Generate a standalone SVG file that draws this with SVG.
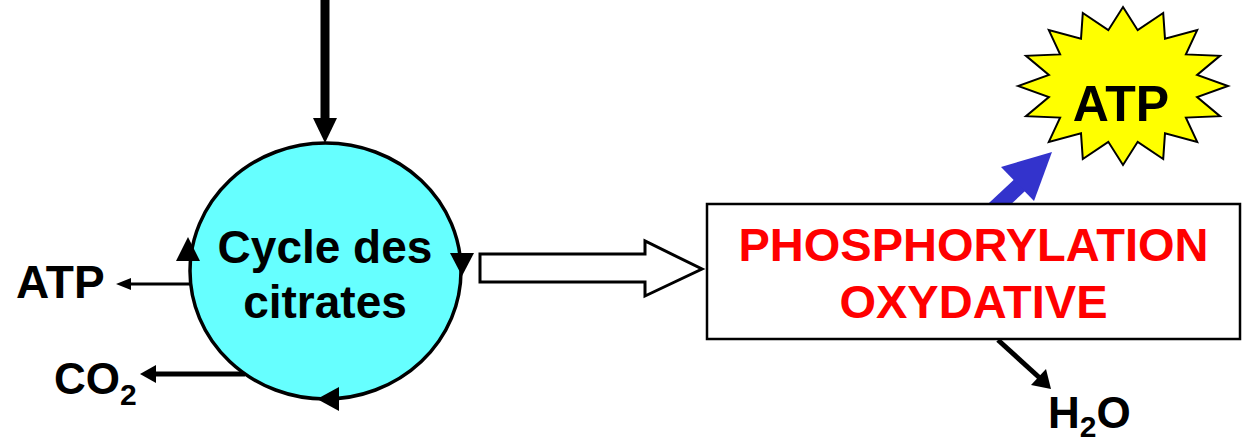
<svg xmlns="http://www.w3.org/2000/svg" width="1247" height="443" viewBox="0 0 1247 443">
<style>
.lbl{font-family:"Liberation Sans",Arial,sans-serif;font-weight:bold;fill:#000}
.red{fill:#ff0000}
.sub{font-size:30px}
</style>
<rect width="1247" height="443" fill="#fff"/>
<g id="connectors">
  <line x1="325" y1="0" x2="325" y2="120" stroke="#000" stroke-width="9"/>
  <polygon points="313,118 337,118 325,143" fill="#000"/>
  <line x1="193" y1="284" x2="126" y2="284" stroke="#000" stroke-width="3"/>
  <polygon points="116,284 131,278 131,290" fill="#000"/>
  <line x1="245" y1="374" x2="150" y2="374" stroke="#000" stroke-width="5"/>
  <polygon points="140,374 156,365 156,383" fill="#000"/>
  <polygon points="480,254 645,254 645,241 702,269 645,296 645,282 480,282" fill="#fff" stroke="#000" stroke-width="3" stroke-linejoin="miter"/>
  <line x1="992" y1="211" x2="1022" y2="183" stroke="#3333cc" stroke-width="16"/>
  <polygon points="1052,152 1001,167 1034,201" fill="#3333cc"/>
  <line x1="998" y1="340" x2="1042" y2="380" stroke="#000" stroke-width="5"/>
  <polygon points="1051,389 1031,385 1046,369" fill="#000"/>
</g>
<g id="cycle">
  <ellipse cx="325.5" cy="271" rx="135.5" ry="128" fill="#66ffff" stroke="#000" stroke-width="3.5"/>
  <polygon points="188,237 176,261 200,261" fill="#000"/>
  <polygon points="462,276 450,253 474,253" fill="#000"/>
  <polygon points="317,399 339,387 339,411" fill="#000"/>
  <text class="lbl" x="325" y="263" font-size="46" text-anchor="middle">Cycle des</text>
  <text class="lbl" x="325" y="318" font-size="46" text-anchor="middle">citrates</text>
</g>
<g id="atp-left">
  <text class="lbl" x="16" y="298" font-size="46">ATP</text>
</g>
<g id="co2">
  <text class="lbl" x="54" y="394" font-size="44">CO<tspan class="sub" dy="11">2</tspan></text>
</g>
<g id="phosphorylation">
  <rect x="707" y="204" width="533" height="135" fill="#fff" stroke="#000" stroke-width="2.5"/>
  <text class="lbl red" x="973.5" y="261" font-size="47" text-anchor="middle">PHOSPHORYLATION</text>
  <text class="lbl red" x="973.5" y="318" font-size="47" text-anchor="middle">OXYDATIVE</text>
</g>
<g id="atp-star">
  <polygon fill="#ffff00" stroke="#000" stroke-width="2" stroke-linejoin="miter" points="1123,7 1137.7,30.2 1163.2,13 1165,38.7 1197.2,30.1 1185.9,54.4 1220,55.8 1197.1,74.9 1228,86 1197.1,97.1 1220,116.2 1185.9,117.6 1197.2,141.9 1165,133.3 1163.2,159 1137.7,141.8 1123,165 1108.3,141.8 1082.8,159 1081,133.3 1048.8,141.9 1060.1,117.6 1026,116.2 1048.9,97.1 1018,86 1048.9,74.9 1026,55.8 1060.1,54.4 1048.8,30.1 1081,38.7 1082.8,13 1108.3,30.2"/>
  <text class="lbl" x="1121" y="121" font-size="50" text-anchor="middle">ATP</text>
</g>
<g id="h2o">
  <text class="lbl" x="1048" y="428" font-size="44">H<tspan class="sub" dy="9">2</tspan><tspan dy="-9">O</tspan></text>
</g>
</svg>
